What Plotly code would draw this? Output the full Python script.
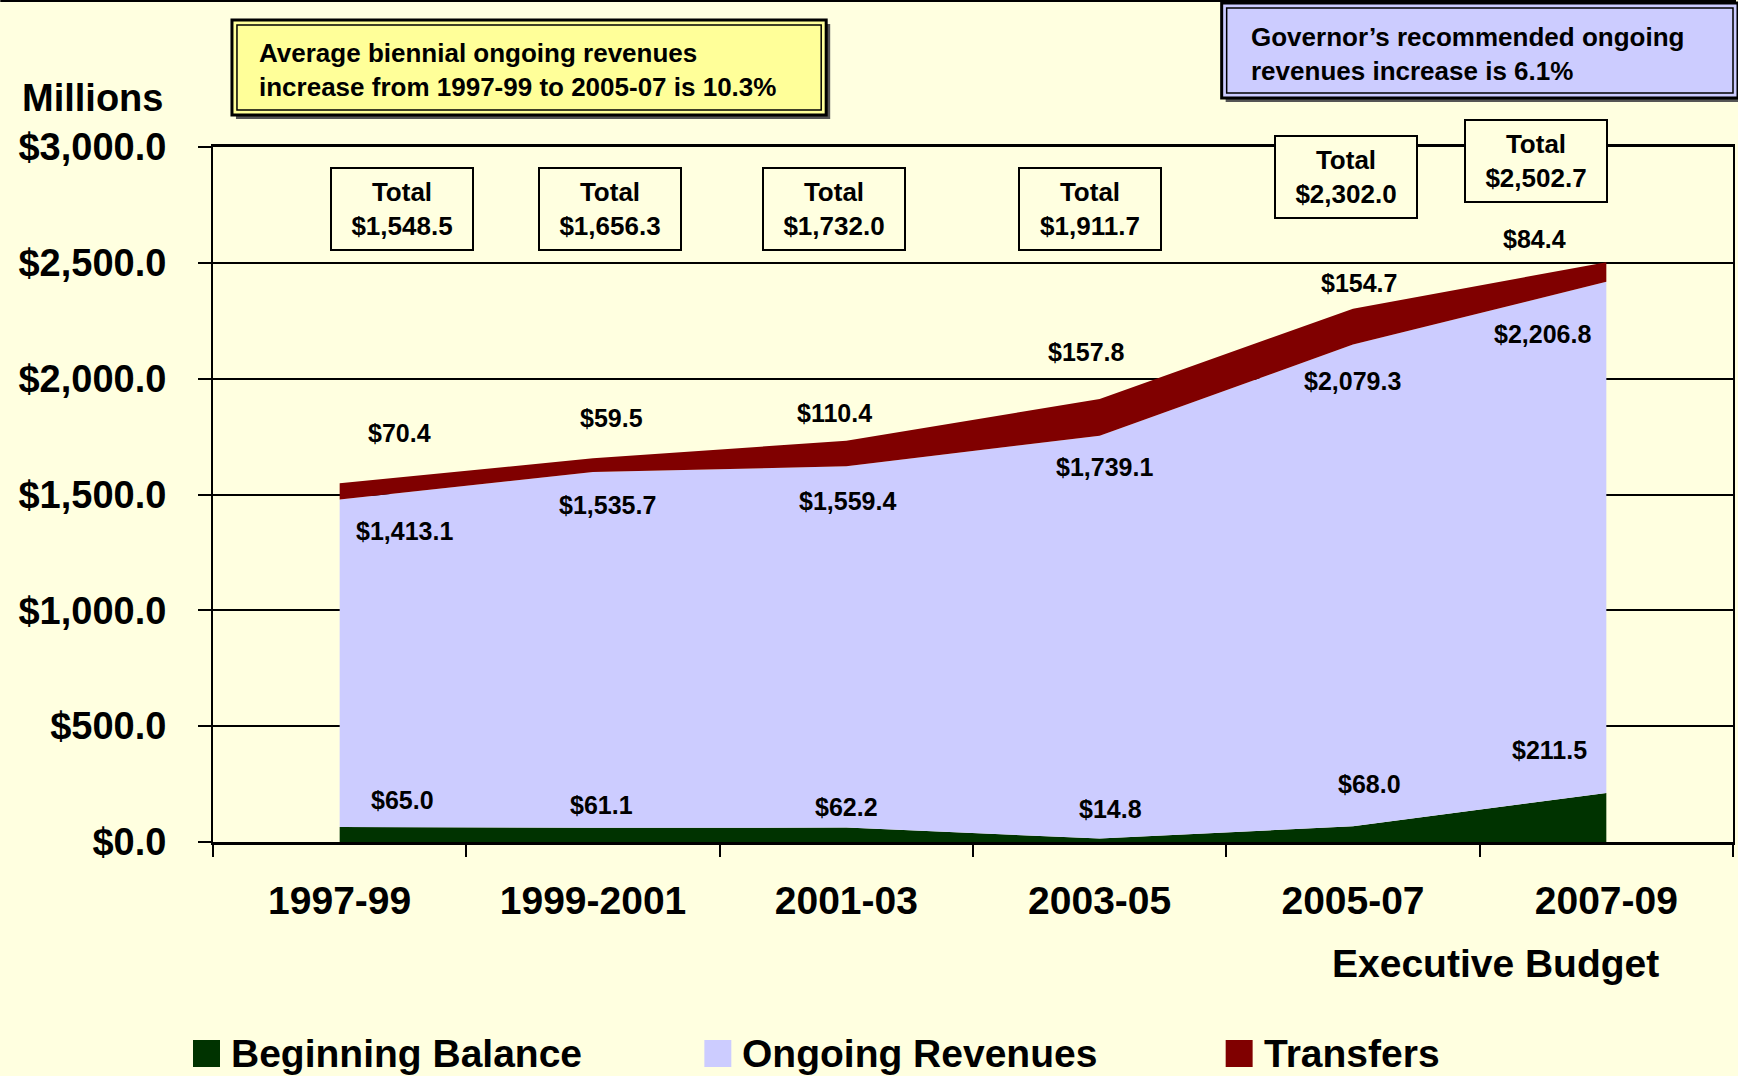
import plotly.graph_objects as go

# ---------------- data ----------------
categories = ["1997-99", "1999-2001", "2001-03", "2003-05", "2005-07", "2007-09"]
beginning_balance = [65.0, 61.1, 62.2, 14.8, 68.0, 211.5]
ongoing_revenues = [1413.1, 1535.7, 1559.4, 1739.1, 2079.3, 2206.8]
transfers = [70.4, 59.5, 110.4, 157.8, 154.7, 84.4]
totals = [1548.5, 1656.3, 1732.0, 1911.7, 2302.0, 2502.7]
series_names = ["Beginning Balance", "Ongoing Revenues", "Transfers"]
y_tick_values = [0, 500, 1000, 1500, 2000, 2500, 3000]
y_tick_labels = ["$0.0", "$500.0", "$1,000.0", "$1,500.0", "$2,000.0", "$2,500.0", "$3,000.0"]
note_left = "Average biennial ongoing revenues<br>increase from 1997-99 to 2005-07 is 10.3%"
note_right = "Governor\u2019s recommended ongoing<br>revenues increase is 6.1%"
sub_label = "Executive Budget"
unit_label = "Millions"

# ---------------- styles / layout geometry ----------------
colors = ["#003300", "#CCCCFF", "#800000"]
BG = "#FFFFE0"
FONT = "Liberation Sans, Arial, sans-serif"
W, H = 1738, 1076
L, R, T, B = 213, 3, 147, 234
PW, PH = W - L - R, H - T - B


def px(x):
    return (x - L) / PW


def py(y):
    return (H - B - y) / PH


# label positions (pixel centres)
balance_label_pos = [(403, 800), (602, 805), (847, 807), (1112, 809), (1371, 784), (1551, 750)]
ongoing_label_pos = [(405, 531), (608, 505), (848, 501), (1106, 467), (1354, 381), (1544, 334)]
transfer_label_pos = [(400, 433), (612, 418), (835, 413), (1088, 352), (1361, 283), (1536, 239)]
total_box_pos = [(402, 209), (611, 209), (835, 209), (1091, 209), (1347, 177), (1538, 161)]
legend_marker_x = [193, 705, 1227]

fig = go.Figure()
for name, vals, col in zip(series_names, [beginning_balance, ongoing_revenues, transfers], colors):
    fig.add_trace(go.Scatter(
        x=categories, y=vals, name=name, mode="lines", stackgroup="one",
        line=dict(width=0, color=col), fillcolor=col, showlegend=False,
    ))

annotations = []
shapes = []


def fmt(v):
    return f"${v:,.1f}"


for vals, pos in [(beginning_balance, balance_label_pos), (ongoing_revenues, ongoing_label_pos),
                  (transfers, transfer_label_pos)]:
    for v, (cx, cy) in zip(vals, pos):
        annotations.append(dict(
            text=fmt(v), x=px(cx), y=py(cy), xref="paper", yref="paper",
            xanchor="center", yanchor="middle", showarrow=False,
            font=dict(family=FONT, size=25, color="black", weight="bold"),
        ))

for v, (cx, cy) in zip(totals, total_box_pos):
    annotations.append(dict(
        text=f"Total<br>{fmt(v)}", x=px(cx), y=py(cy), xref="paper", yref="paper",
        xanchor="center", yanchor="middle", showarrow=False,
        width=140, height=80, borderpad=0, borderwidth=2, bordercolor="black",
        bgcolor=BG, font=dict(family=FONT, size=26, color="black", weight="bold"),
    ))


def fancy_box(x0, y0, x1, y1, fill):
    # shadow
    shapes.append(dict(type="rect", xref="paper", yref="paper",
                       x0=px(x0 + 4), x1=px(x1 + 4), y0=py(y1 + 4), y1=py(y0 + 4),
                       fillcolor="#555555", line=dict(width=0), layer="above"))
    shapes.append(dict(type="rect", xref="paper", yref="paper",
                       x0=px(x0), x1=px(x1), y0=py(y1), y1=py(y0),
                       fillcolor=fill, line=dict(width=3, color="black"), layer="above"))
    shapes.append(dict(type="rect", xref="paper", yref="paper",
                       x0=px(x0 + 5), x1=px(x1 - 5), y0=py(y1 - 5), y1=py(y0 + 5),
                       fillcolor="rgba(0,0,0,0)", line=dict(width=1.5, color="black"), layer="above"))


fancy_box(232, 20, 827, 115, "#FFFF99")
fancy_box(1223, 3, 1740, 98, "#CCCCFF")

annotations.append(dict(
    text=note_left, x=px(257), y=py(70), xref="paper", yref="paper",
    xanchor="left", yanchor="middle", align="left", showarrow=False,
    font=dict(family=FONT, size=26, color="black", weight="bold"),
))
annotations.append(dict(
    text=note_right, x=px(1250), y=py(54), xref="paper", yref="paper",
    xanchor="left", yanchor="middle", align="left", showarrow=False,
    font=dict(family=FONT, size=26, color="black", weight="bold"),
))
annotations.append(dict(
    text=unit_label, x=px(92), y=py(98), xref="paper", yref="paper",
    xanchor="center", yanchor="middle", showarrow=False,
    font=dict(family=FONT, size=38, color="black", weight="bold"),
))
annotations.append(dict(
    text=sub_label, x=px(1497), y=py(963), xref="paper", yref="paper",
    xanchor="center", yanchor="middle", showarrow=False,
    font=dict(family=FONT, size=39, color="black", weight="bold"),
))

# manual legend
for name, col, mx in zip(series_names, colors, legend_marker_x):
    shapes.append(dict(type="rect", xref="paper", yref="paper",
                       x0=px(mx), x1=px(mx + 27), y0=py(1067), y1=py(1040),
                       fillcolor=col, line=dict(width=0)))
    annotations.append(dict(
        text=name, x=px(mx + 36), y=py(1053), xref="paper", yref="paper",
        xanchor="left", yanchor="middle", showarrow=False,
        font=dict(family=FONT, size=39, color="black", weight="bold"),
    ))

# page top border
shapes.append(dict(type="line", xref="paper", yref="paper",
                   x0=px(0), x1=px(W), y0=py(1), y1=py(1), line=dict(color="black", width=2)))

fig.update_layout(
    width=W, height=H, margin=dict(l=L, r=R, t=T, b=B, pad=0),
    paper_bgcolor=BG, plot_bgcolor=BG,
    showlegend=False,
    annotations=annotations, shapes=shapes,
    font=dict(family=FONT, color="black"),
)
fig.update_xaxes(
    type="category", range=[-0.5, 5.5], tickson="boundaries",
    ticks="outside", ticklen=12, tickwidth=2, tickcolor="black",
    showline=True, linecolor="black", linewidth=3, mirror=True,
    showgrid=False, ticklabelstandoff=22,
    tickfont=dict(family=FONT, size=39, color="black", weight="bold"),
)
fig.update_yaxes(
    range=[0, 3000], tickvals=y_tick_values, ticktext=y_tick_labels,
    ticks="outside", ticklen=13, tickwidth=2, tickcolor="black",
    showline=True, linecolor="black", linewidth=2, mirror=True,
    showgrid=True, gridcolor="black", gridwidth=1.5, zeroline=False,
    ticklabelstandoff=24,
    tickfont=dict(family=FONT, size=38, color="black", weight="bold"),
)

fig.write_html("out.html")
